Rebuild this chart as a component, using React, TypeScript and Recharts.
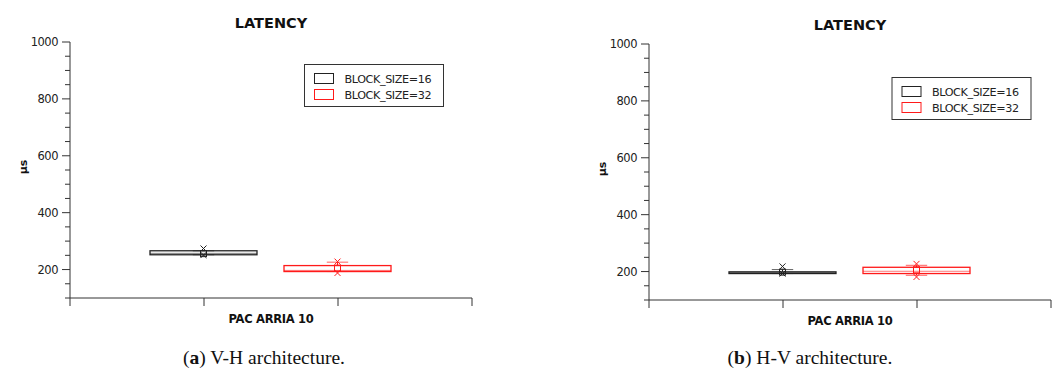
import React from "react";
import { ComposedChart, Bar, XAxis, YAxis } from "recharts";

const SERIES = ["BLOCK_SIZE=16", "BLOCK_SIZE=32"];
const COLORS = ["#222222", "#ff1a1a"];
const X_POS = [1, 2];
const X_TICKS = [0, 1, 2, 3];
const Y_MAJOR = [200, 400, 600, 800, 1000];
const Y_TICKS = [100, 150, 200, 250, 300, 350, 400, 450, 500, 550, 600, 650, 700, 750, 800, 850, 900, 950, 1000];

// (a) V-H architecture, latency in µs
const VH_P1 = [251, 188];
const VH_LOW = [252, 193];
const VH_Q1 = [252, 193];
const VH_MEDIAN = [257, 197];
const VH_Q3 = [266, 214];
const VH_HIGH = [266, 226];
const VH_P99 = [274, 228];
const VH_MEAN = [256, 205];

// (b) H-V architecture
const HV_P1 = [193, 181];
const HV_LOW = [193, 187];
const HV_Q1 = [193, 193];
const HV_MEDIAN = [196, 201];
const HV_Q3 = [199, 215];
const HV_HIGH = [207, 222];
const HV_P99 = [218, 227];
const HV_MEAN = [198, 206];

const buildRows = (p1: number[], low: number[], q1: number[], median: number[], q3: number[], high: number[], p99: number[], mean: number[]) =>
  X_POS.map((x, i) => ({
    x,
    idx: i,
    name: SERIES[i],
    p1: p1[i],
    low: low[i],
    q1: q1[i],
    median: median[i],
    q3: q3[i],
    high: high[i],
    p99: p99[i],
    mean: mean[i],
  }));

const vhRows = buildRows(VH_P1, VH_LOW, VH_Q1, VH_MEDIAN, VH_Q3, VH_HIGH, VH_P99, VH_MEAN);
const hvRows = buildRows(HV_P1, HV_LOW, HV_Q1, HV_MEDIAN, HV_Q3, HV_HIGH, HV_P99, HV_MEAN);

const FONT = '"DejaVu Sans", sans-serif';

// bar spans the full extent; the rest is placed inside it linearly
const BoxShape = (props: any) => {
  const { x, y, width, height, payload } = props;
  const lo = Math.min(payload.p1, payload.low);
  const hi = Math.max(payload.p99, payload.high);
  const top = Math.min(y, y + height);
  const k = Math.abs(height) / (hi - lo);
  const py = (v: number) => top + (hi - v) * k;
  const cx = x + width / 2;
  const capW = width * 0.2;
  const c = COLORS[payload.idx];
  const yq1 = py(payload.q1);
  const yq3 = py(payload.q3);
  const cross = (v: number) => {
    const yy = py(v);
    return (
      <g>
        <line x1={cx - 3} y1={yy - 3} x2={cx + 3} y2={yy + 3} stroke={c} />
        <line x1={cx - 3} y1={yy + 3} x2={cx + 3} y2={yy - 3} stroke={c} />
      </g>
    );
  };
  return (
    <g>
      <line x1={cx} x2={cx} y1={py(payload.high)} y2={yq3} stroke={c} />
      <line x1={cx} x2={cx} y1={yq1} y2={py(payload.low)} stroke={c} />
      <line x1={cx - capW / 2} x2={cx + capW / 2} y1={py(payload.high)} y2={py(payload.high)} stroke={c} strokeOpacity={0.7} />
      <line x1={cx - capW / 2} x2={cx + capW / 2} y1={py(payload.low)} y2={py(payload.low)} stroke={c} strokeOpacity={0.7} />
      <rect x={x} y={yq3} width={width} height={yq1 - yq3} fill="none" stroke={c} strokeWidth={1.3} />
      <line x1={x} x2={x + width} y1={py(payload.median)} y2={py(payload.median)} stroke={c} strokeOpacity={0.6} />
      <rect x={cx - 3} y={py(payload.mean) - 3} width={6} height={6} fill="none" stroke={c} />
      {cross(payload.p1)}
      {cross(payload.p99)}
    </g>
  );
};

const YTick = (props: any) => {
  const { x, y, payload } = props;
  const major = Y_MAJOR.includes(payload.value);
  return (
    <g>
      <line x1={x - (major ? 8 : 5)} x2={x} y1={y} y2={y} stroke="#333" />
      {major && (
        <text x={x - 12} y={y} dy="0.36em" textAnchor="end" fontFamily={FONT} fontSize={11.5} letterSpacing={-0.5} fill="#222">
          {payload.value}
        </text>
      )}
    </g>
  );
};

interface PanelProps {
  left: number;
  top: number;
  rows: any[];
  legendX: number;
  legendY: number;
}

const Panel = ({ left, top, rows, legendX, legendY }: PanelProps) => (
  <div style={{ position: "absolute", left, top, width: 480, height: 340 }}>
    <ComposedChart width={480} height={340} data={rows} margin={{ top: 42, right: 8, bottom: 12, left: 10 }}>
      <XAxis
        type="number"
        dataKey="x"
        domain={[0, 3]}
        ticks={X_TICKS}
        interval={0}
        tickFormatter={() => ""}
        tickSize={8}
        height={30}
        stroke="#333"
        label={{
          content: (p: any) => {
            const vb = p.viewBox;
            return (
              <text x={vb.x + vb.width / 2} y={vb.y + 25} textAnchor="middle" fontFamily={FONT} fontWeight="bold" fontSize={11.5} letterSpacing={-0.3} fill="#111">
                PAC ARRIA 10
              </text>
            );
          },
        }}
      />
      <YAxis
        type="number"
        domain={[100, 1000]}
        ticks={Y_TICKS}
        interval={0}
        width={60}
        tickSize={0}
        tickMargin={0}
        tickLine={false}
        tick={<YTick />}
        stroke="#333"
        label={{
          content: (p: any) => {
            const vb = p.viewBox;
            const lx = vb.x + 13;
            const ly = vb.y + vb.height / 2 - 3;
            return (
              <text x={lx} y={ly} transform={`rotate(-90 ${lx} ${ly})`} textAnchor="middle" dominantBaseline="central" fontFamily={FONT} fontWeight="bold" fontSize={11} fill="#111">
                µs
              </text>
            );
          },
        }}
      />
      <Bar
        dataKey={(d: any) => [Math.min(d.p1, d.low), Math.max(d.p99, d.high)]}
        barSize={107}
        shape={<BoxShape />}
        isAnimationActive={false}
      />
    </ComposedChart>
    <svg width={480} height={340} style={{ position: "absolute", left: 0, top: 0, pointerEvents: "none" }}>
      <text x={271} y={28} textAnchor="middle" fontFamily={FONT} fontWeight="bold" fontSize={14.5} fill="#111">
        LATENCY
      </text>
      <rect x={legendX} y={legendY} width={139} height={42} fill="#fff" stroke="#333" />
      {SERIES.map((s, i) => (
        <g key={s}>
          <rect x={legendX + 10} y={legendY + 9 + i * 16} width={19} height={10} fill="none" stroke={COLORS[i]} />
          <text x={legendX + 40} y={legendY + 18.5 + i * 16} fontFamily={FONT} fontSize={11.2} letterSpacing={-0.4} fill="#222">
            {s}
          </text>
        </g>
      ))}
    </svg>
  </div>
);

const captionStyle: React.CSSProperties = {
  position: "absolute",
  top: 347,
  width: 300,
  textAlign: "center",
  fontFamily: '"Liberation Serif", serif',
  fontSize: 19.5,
  lineHeight: "22px",
  color: "#111",
};

export default function App() {
  return (
    <div style={{ position: "absolute", left: 0, top: 0, width: 1058, height: 379, background: "#fff" }}>
      <Panel left={0} top={0} rows={vhRows} legendX={304.5} legendY={64.5} />
      <Panel left={579} top={2} rows={hvRows} legendX={313} legendY={75.5} />
      <div style={{ ...captionStyle, left: 264 - 150 }}>
        (<b>a</b>) V-H architecture.
      </div>
      <div style={{ ...captionStyle, left: 810 - 150 }}>
        (<b>b</b>) H-V architecture.
      </div>
    </div>
  );
}
